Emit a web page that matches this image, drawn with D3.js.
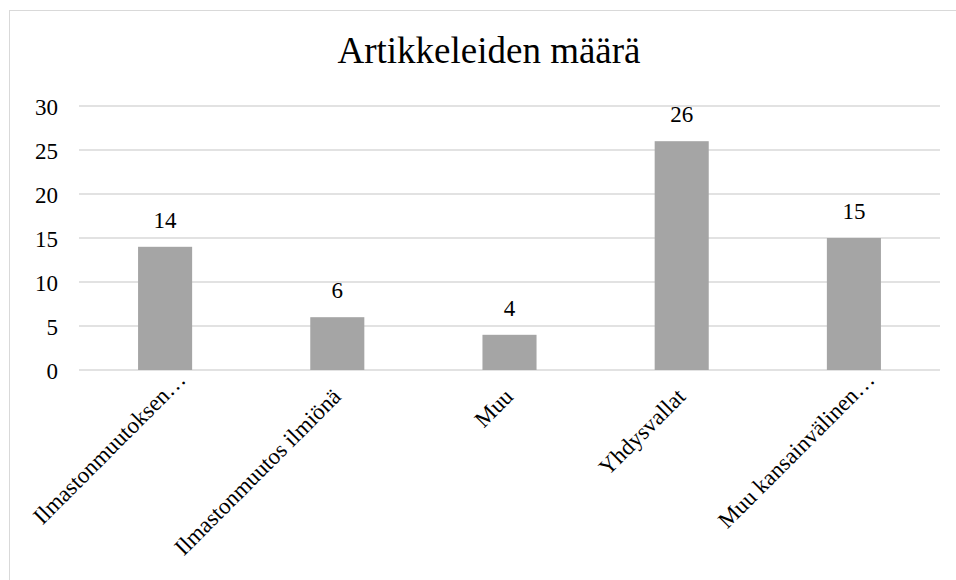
<!DOCTYPE html>
<html lang="fi">
<head>
  <meta charset="UTF-8">
  <title>Artikkeleiden määrä</title>
  <script src="https://cdn.jsdelivr.net/npm/d3@7"></script>
  <style>
    body { margin: 0; background: #fff; }
    svg text { font-family: "Liberation Serif", "Times New Roman", serif; fill: #000; }
  </style>
</head>
<body>
  <svg width="956" height="580" font-family="Liberation Serif, serif"></svg>
  <script>
    var categories = ["Ilmastonmuutoksen…", "Ilmastonmuutos ilmiönä", "Muu", "Yhdysvallat", "Muu kansainvälinen…"];
    var values = [14, 6, 4, 26, 15];
    var yTicks = [0, 5, 10, 15, 20, 25, 30];
    var title = "Artikkeleiden määrä";

    var svg = d3.select("svg");

    // chart border
    svg.append("rect")
      .attr("x", 9.5).attr("y", 10.5)
      .attr("width", 960).attr("height", 580)
      .attr("fill", "none").attr("stroke", "#d9d9d9");

    var x = d3.scaleBand()
      .domain(categories)
      .range([79, 940])
      .paddingInner(0.686)
      .paddingOuter(0.343);

    var y = d3.scaleLinear()
      .domain([0, 30])
      .range([370, 106]);

    svg.append("text")
      .attr("x", 489).attr("y", 63)
      .attr("text-anchor", "middle")
      .style("font-size", "37px")
      .text(title);

    // gridlines
    svg.append("g")
      .selectAll("line")
      .data(yTicks)
      .enter()
      .append("line")
      .attr("x1", 79).attr("x2", 940)
      .attr("y1", d => y(d)).attr("y2", d => y(d))
      .attr("stroke", "#d9d9d9")
      .attr("stroke-width", 1.5);

    var yAxis = svg.append("g")
      .attr("transform", "translate(66,0)")
      .call(d3.axisLeft(y).tickValues(yTicks).tickSize(0).tickPadding(8))
      .attr("font-family", null)
      .attr("font-size", null);
    yAxis.select(".domain").remove();
    yAxis.selectAll("text")
      .attr("x", -8)
      .attr("dy", "0.35em")
      .style("font-size", "23px");

    svg.selectAll(".bar")
      .data(values)
      .enter()
      .append("rect")
      .attr("class", "bar")
      .attr("x", (d, i) => x(categories[i]))
      .attr("y", d => y(d))
      .attr("width", x.bandwidth())
      .attr("height", d => y(0) - y(d))
      .attr("fill", "#a5a5a5");

    svg.selectAll(".val")
      .data(values)
      .enter()
      .append("text")
      .attr("class", "val")
      .attr("x", (d, i) => x(categories[i]) + x.bandwidth() / 2)
      .attr("y", d => y(d) - 19)
      .attr("text-anchor", "middle")
      .style("font-size", "23px")
      .text(d => d);

    // rotated category labels; truncated ones sit a little further along
    svg.selectAll(".cat")
      .data(categories)
      .enter()
      .append("text")
      .attr("class", "cat")
      .attr("text-anchor", "end")
      .style("font-size", "23px")
      .attr("transform", d => {
        var c = x(d) + x.bandwidth() / 2;
        var shift = d.endsWith("…") ? 17 : 0;
        return "translate(" + (c + 5 + shift) + "," + (398 - shift) + ") rotate(-45)";
      })
      .text(d => d);
  </script>
</body>
</html>
